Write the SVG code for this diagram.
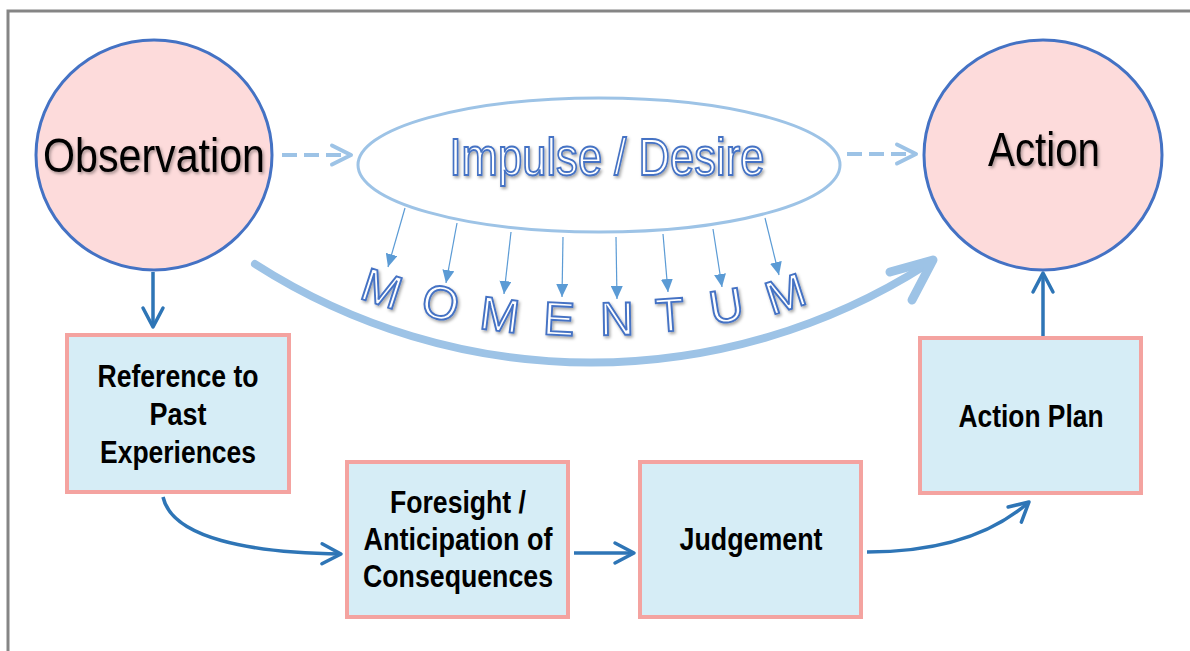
<svg xmlns="http://www.w3.org/2000/svg" width="1190" height="651" viewBox="0 0 1190 651">
<style>
.frame{fill:none;stroke:#858585;stroke-width:3}
.circ{fill:#fddbdb;stroke:#4472c4;stroke-width:3}
.big{font-family:"Liberation Sans",Arial,sans-serif;font-size:49px;fill:#000;text-anchor:middle}
.box{fill:#d6edf6;stroke:#f4a3a0;stroke-width:4}
.bt{font-family:"Liberation Sans",Arial,sans-serif;font-size:31px;font-weight:bold;fill:#000;text-anchor:middle}
.outl{font-family:"Liberation Sans",Arial,sans-serif;fill:#fff;stroke:#4472c4;stroke-width:1.9;text-anchor:middle}
.dark{fill:none;stroke:#2e75b6;stroke-width:3.5;marker-end:url(#mDark)}
.dash{fill:none;stroke:#9dc3e6;stroke-width:4;stroke-dasharray:15 7;marker-end:url(#mLight)}
.thin{fill:none;stroke:#5b9bd5;stroke-width:1.2;marker-end:url(#mTri)}
</style>
<defs>
<filter id="sh" x="-20%" y="-20%" width="140%" height="140%">
<feDropShadow dx="1.5" dy="2" stdDeviation="1.5" flood-color="#000" flood-opacity="0.35"/>
</filter>
<marker id="mDark" markerUnits="userSpaceOnUse" viewBox="-24 -14 28 28" refX="0" refY="0" markerWidth="28" markerHeight="28" orient="auto">
<path d="M-19,-10 L0,0 L-19,10" fill="none" stroke="#2e75b6" stroke-width="3.5" stroke-linecap="round" stroke-linejoin="round"/>
</marker>
<marker id="mLight" markerUnits="userSpaceOnUse" viewBox="-24 -14 28 28" refX="0" refY="0" markerWidth="28" markerHeight="28" orient="auto">
<path d="M-19,-9.5 L0,0 L-19,9.5" fill="none" stroke="#9dc3e6" stroke-width="4" stroke-linecap="round" stroke-linejoin="round"/>
</marker>
<marker id="mTri" markerUnits="userSpaceOnUse" viewBox="0 0 13 12" refX="13" refY="6" markerWidth="13" markerHeight="12" orient="auto">
<path d="M0,0 L13,6 L0,12 z" fill="#5b9bd5"/>
</marker>
</defs>
<rect width="1190" height="651" fill="#fff"/>
<rect class="frame" x="8" y="11" width="1200" height="700"/>

<g id="connectors">
<path class="dark" d="M153,272 L153,327"/>
<path class="dark" d="M163,497 C172,538 250,553 341,554"/>
<path class="dark" d="M574,553 L634,553"/>
<path class="dark" d="M867,552 C945,552 995,532 1029,502"/>
<path class="dark" d="M1043,336 L1043,273"/>
<path class="dash" d="M282,155 L351,155"/>
<path class="dash" d="M847,154 L916,154"/>
<path d="M255,264 A623,623 0 0 0 926,265" fill="none" stroke="#9dc3e6" stroke-width="8" stroke-linecap="round"/>
<path d="M890,272 L933,260 L912,300" fill="none" stroke="#9dc3e6" stroke-width="9" stroke-linecap="round" stroke-linejoin="round"/>
<path class="thin" d="M405,208 L388,267"/>
<path class="thin" d="M457,223 L446,283"/>
<path class="thin" d="M511,232 L504,294"/>
<path class="thin" d="M563,237 L562,297"/>
<path class="thin" d="M616,237 L617,299"/>
<path class="thin" d="M663,234 L668,292"/>
<path class="thin" d="M713,229 L722,287"/>
<path class="thin" d="M765,218 L779,275"/>
</g>

<g id="observation">
<ellipse class="circ" cx="154" cy="155" rx="118" ry="115"/>
<text class="big" x="154" y="172" textLength="222" lengthAdjust="spacingAndGlyphs" filter="url(#sh)">Observation</text>
</g>

<g id="action">
<ellipse class="circ" cx="1043" cy="155" rx="119" ry="115"/>
<text class="big" x="1044" y="166" textLength="112" lengthAdjust="spacingAndGlyphs" filter="url(#sh)">Action</text>
</g>

<g id="impulse">
<ellipse cx="599" cy="165" rx="241" ry="67" fill="none" stroke="#9dc3e6" stroke-width="3"/>
<text class="outl" x="607" y="175" font-size="51" textLength="315" lengthAdjust="spacingAndGlyphs" filter="url(#sh)">Impulse / Desire</text>
</g>

<g id="momentum" filter="url(#sh)">
<text class="outl" font-size="47" transform="translate(382,288) rotate(18)" y="17">M</text>
<text class="outl" font-size="47" transform="translate(441,302) rotate(13)" y="17">O</text>
<text class="outl" font-size="47" transform="translate(500,314) rotate(7)" y="17">M</text>
<text class="outl" font-size="47" transform="translate(559,318) rotate(3)" y="17">E</text>
<text class="outl" font-size="47" transform="translate(617,318) rotate(-1)" y="17">N</text>
<text class="outl" font-size="47" transform="translate(670,314) rotate(-4)" y="17">T</text>
<text class="outl" font-size="47" transform="translate(726,305) rotate(-9)" y="17">U</text>
<text class="outl" font-size="47" transform="translate(785,293) rotate(-18)" y="17">M</text>
</g>

<g id="reference">
<rect class="box" x="67" y="335" width="222" height="157"/>
<text class="bt" x="178" y="387" textLength="161" lengthAdjust="spacingAndGlyphs">Reference to</text>
<text class="bt" x="178" y="425" textLength="57" lengthAdjust="spacingAndGlyphs">Past</text>
<text class="bt" x="178" y="463" textLength="156" lengthAdjust="spacingAndGlyphs">Experiences</text>
</g>

<g id="foresight">
<rect class="box" x="347" y="462" width="221" height="155"/>
<text class="bt" x="458" y="513" textLength="136" lengthAdjust="spacingAndGlyphs">Foresight /</text>
<text class="bt" x="458" y="550" textLength="189" lengthAdjust="spacingAndGlyphs">Anticipation of</text>
<text class="bt" x="458" y="587" textLength="190" lengthAdjust="spacingAndGlyphs">Consequences</text>
</g>

<g id="judgement">
<rect class="box" x="640" y="462" width="221" height="155"/>
<text class="bt" x="751" y="550" textLength="143" lengthAdjust="spacingAndGlyphs">Judgement</text>
</g>

<g id="actionplan">
<rect class="box" x="920" y="338" width="221" height="155"/>
<text class="bt" x="1031" y="427" textLength="145" lengthAdjust="spacingAndGlyphs">Action Plan</text>
</g>
</svg>
